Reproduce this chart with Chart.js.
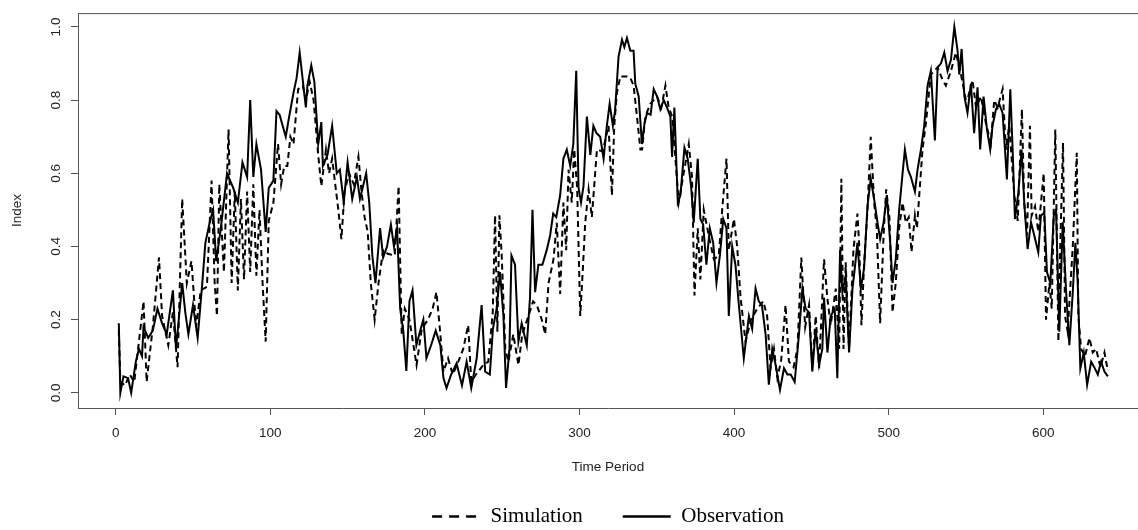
<!DOCTYPE html>
<html>
<head>
<meta charset="utf-8">
<script src="https://cdn.jsdelivr.net/npm/chart.js@4"></script>
<style>
  body { margin: 0; background: #fff; }
  #wrap { width: 1138px; height: 530px; position: relative; }
</style>
</head>
<body>
<div id="wrap"><canvas id="indexChart"></canvas></div>
<script>
// axis ticks
const xTicks = [0, 100, 200, 300, 400, 500, 600];
const yTicks = [0, 0.2, 0.4, 0.6, 0.8, 1.0];
const seriesNames = ["Simulation", "Observation"];

// [time period, index]
const simulation = [
  [2,0.17],[3,0.03],[6,0.02],[9,0.05],[12,0.03],[15,0.14],[18,0.25],[20,0.03],[24,0.18],[28,0.37],
  [30,0.21],[34,0.13],[37,0.22],[40,0.07],[43,0.53],[46,0.30],[49,0.36],[52,0.18],[55,0.28],[59,0.29],
  [62,0.58],[64,0.30],[65.5,0.21],[67,0.57],[70,0.33],[73,0.72],[75,0.30],[77,0.55],[79,0.28],[81,0.53],
  [83,0.31],[85,0.55],[87,0.33],[89,0.57],[91,0.32],[93,0.50],[95,0.30],[97,0.14],[99,0.47],[102,0.52],
  [105,0.68],[107,0.57],[109,0.62],[111,0.62],[113,0.70],[115,0.68],[118,0.83],[121,0.84],[123,0.80],[125.5,0.85],
  [128,0.80],[131,0.65],[133,0.565],[136,0.665],[138,0.60],[140,0.64],[144,0.50],[146,0.42],[148,0.55],[151,0.60],
  [154,0.57],[157,0.645],[159,0.55],[161,0.48],[163,0.44],[165,0.30],[167.5,0.20],[170,0.30],[173,0.39],[176,0.38],
  [180.5,0.375],[183,0.565],[185,0.16],[187,0.23],[190,0.20],[194.6,0.076],[198,0.175],[202,0.20],[205,0.23],[207.5,0.275],
  [210,0.16],[212,0.058],[215,0.094],[218,0.05],[221.6,0.085],[224.8,0.12],[228,0.185],[230,0.03],[233,0.05],[237.8,0.076],
  [241,0.085],[243.9,0.22],[245.4,0.485],[246.9,0.167],[248.2,0.485],[249.7,0.375],[252,0.12],[254,0.085],[257.2,0.16],[260.5,0.076],
  [263,0.16],[267,0.21],[270,0.25],[272.4,0.24],[275.6,0.20],[277.8,0.16],[280,0.30],[283.2,0.365],[285.3,0.465],[287.5,0.27],
  [289.6,0.52],[291.4,0.39],[292.9,0.61],[295,0.52],[296.6,0.665],[298.5,0.56],[300.5,0.21],[302.2,0.34],[303.7,0.465],[305.9,0.556],
  [308,0.48],[311.3,0.665],[315,0.66],[318.8,0.73],[321,0.54],[322.5,0.73],[324.2,0.82],[326.4,0.865],[330.7,0.865],[333,0.86],
  [335,0.84],[337.2,0.755],[339.4,0.665],[340.5,0.665],[342.6,0.755],[345.8,0.79],[350.2,0.81],[353,0.78],[355.6,0.84],[357.7,0.78],
  [360,0.755],[364.2,0.52],[366.4,0.575],[370.7,0.68],[372.8,0.59],[374.4,0.266],[376.5,0.45],[378.2,0.31],[380.4,0.50],[383.6,0.43],
  [386.9,0.365],[390.1,0.375],[392.3,0.50],[395.1,0.64],[396.6,0.39],[399.9,0.475],[402,0.40],[404.2,0.26],[407.4,0.14],[411,0.20],
  [415,0.23],[418.9,0.25],[421.4,0.21],[423.6,0.067],[425.8,0.12],[428,0.04],[430.5,0.09],[433.3,0.24],[435.5,0.085],[438.5,0.07],
  [441,0.12],[443.5,0.37],[446,0.18],[448.5,0.24],[450.6,0.067],[452.8,0.21],[455,0.067],[458.2,0.365],[460.4,0.257],[462.5,0.185],
  [465.8,0.285],[468,0.12],[469.4,0.585],[470.8,0.12],[472.2,0.357],[474.4,0.12],[477.2,0.39],[479.8,0.49],[481,0.40],[482.4,0.185],
  [484.1,0.35],[486.3,0.50],[488.4,0.70],[490.6,0.52],[492.3,0.45],[494.5,0.19],[496.7,0.43],[498.4,0.556],[500.5,0.48],[502.5,0.22],
  [504.6,0.30],[506.8,0.45],[509,0.52],[511.1,0.465],[513,0.48],[514.8,0.385],[517,0.485],[518.3,0.45],[519.8,0.54],[521.9,0.665],
  [524.1,0.737],[527.3,0.87],[531.7,0.89],[534.9,0.855],[537,0.84],[540.3,0.88],[543.5,0.93],[546.8,0.87],[550,0.80],[551.5,0.81],
  [554.3,0.855],[556.5,0.78],[559.7,0.81],[562.9,0.737],[566.1,0.683],[568.3,0.80],[570.5,0.78],[573.7,0.83],[575.9,0.665],[578,0.73],
  [581.3,0.54],[583.5,0.47],[586.2,0.775],[587.7,0.52],[589.5,0.43],[591.4,0.73],[592.5,0.484],[594.7,0.51],[596.8,0.44],[600.3,0.60],
  [601.8,0.20],[604,0.30],[605.5,0.23],[607.8,0.72],[609.8,0.14],[611,0.40],[612.8,0.683],[614.1,0.21],[615.8,0.167],[619.1,0.40],
  [621.7,0.656],[622.7,0.21],[624.5,0.12],[627,0.10],[629.9,0.15],[632,0.11],[634.2,0.12],[637,0.07],[639.6,0.11],[641.8,0.06]
];

const observation = [
  [2,0.19],[3,0.0],[5,0.045],[8,0.04],[10,0.0],[13,0.085],[15,0.12],[17,0.10],[18,0.18],[21,0.15],
  [24,0.17],[27,0.23],[30,0.19],[33,0.16],[37,0.28],[39,0.12],[41,0.21],[43,0.30],[45,0.22],[47,0.16],
  [50,0.24],[53,0.15],[56,0.30],[58,0.41],[61,0.47],[63,0.50],[65,0.36],[68,0.45],[72,0.60],[76,0.56],
  [79,0.52],[82,0.63],[85,0.59],[87,0.80],[89,0.59],[91,0.68],[94,0.61],[97,0.44],[99,0.56],[102,0.58],
  [104,0.77],[106,0.76],[108,0.73],[110,0.70],[112,0.75],[115,0.82],[117,0.86],[119,0.93],[121,0.855],[123,0.78],
  [124,0.84],[126.5,0.895],[128.5,0.85],[131,0.68],[133,0.74],[134,0.62],[137,0.65],[140,0.73],[143,0.60],[145,0.61],
  [147.5,0.52],[150,0.63],[153,0.53],[156,0.59],[158,0.53],[162,0.60],[164,0.52],[166,0.375],[168,0.30],[171,0.45],
  [173,0.37],[175.5,0.40],[178,0.46],[180,0.40],[182,0.45],[184,0.23],[186,0.17],[188,0.06],[190,0.25],[192,0.28],
  [194.5,0.13],[197,0.17],[199,0.20],[201,0.095],[204,0.13],[207,0.17],[210,0.13],[212,0.04],[214,0.013],[217,0.05],
  [220.5,0.08],[224,0.02],[227,0.085],[230,0.013],[233.5,0.094],[236.7,0.24],[239,0.058],[242,0.05],[244,0.175],[246.4,0.23],
  [248.6,0.33],[250.8,0.21],[252.5,0.013],[254.7,0.12],[256,0.375],[258.3,0.35],[260.5,0.14],[262.6,0.19],[265.9,0.13],[268,0.26],
  [269.6,0.50],[271.3,0.275],[273.4,0.35],[276,0.35],[278.8,0.39],[281,0.43],[283,0.49],[285,0.48],[287.5,0.54],[289.6,0.64],
  [291.8,0.665],[294,0.62],[296,0.68],[297.9,0.88],[299.4,0.56],[301,0.52],[302.6,0.565],[304.8,0.755],[307,0.65],[309,0.73],
  [311,0.71],[313.4,0.70],[315.6,0.64],[317.7,0.73],[319.5,0.79],[321.6,0.73],[323,0.77],[325.3,0.92],[327.5,0.965],[329,0.945],
  [330.7,0.97],[332.9,0.935],[335,0.935],[336.1,0.845],[338.3,0.81],[340.4,0.68],[342,0.735],[343.7,0.765],[346,0.76],[348,0.83],
  [350.2,0.81],[352.3,0.775],[354.5,0.80],[356.6,0.78],[358.8,0.755],[359.9,0.645],[361.4,0.78],[363.6,0.52],[365.3,0.54],[367.9,0.67],
  [370,0.64],[372.2,0.565],[373.9,0.465],[376.5,0.64],[378.2,0.475],[380,0.46],[382.1,0.35],[384.3,0.45],[386.5,0.41],[388.6,0.30],
  [390.8,0.375],[393,0.475],[395.1,0.45],[396.6,0.21],[398.8,0.40],[400.9,0.35],[403.1,0.24],[406.3,0.094],[409.6,0.21],[411.7,0.175],
  [413.9,0.285],[416,0.25],[418,0.24],[420.4,0.16],[422.5,0.022],[424.7,0.12],[426.9,0.076],[429.7,0.008],[432.3,0.067],[434.5,0.05],
  [436.6,0.05],[439.2,0.03],[442,0.16],[444.2,0.285],[446.3,0.23],[448.5,0.22],[450.6,0.058],[452.8,0.175],[455,0.076],[457.1,0.12],
  [458.2,0.26],[460.4,0.11],[462.5,0.21],[465.1,0.23],[466.8,0.04],[468.6,0.39],[470.1,0.275],[472.2,0.32],[474.4,0.11],[476.6,0.285],
  [478.1,0.34],[479.8,0.41],[482,0.285],[484.1,0.34],[486.3,0.51],[488.4,0.585],[490.6,0.53],[492.8,0.465],[494.5,0.42],[496.7,0.465],
  [498.8,0.54],[501,0.41],[502.5,0.30],[504.6,0.365],[506.8,0.50],[509,0.60],[510.5,0.665],[512.5,0.61],[514.4,0.59],[517,0.55],
  [518.7,0.61],[520.9,0.665],[523,0.73],[525.2,0.84],[527.3,0.88],[529.9,0.69],[531.7,0.89],[533.8,0.90],[536,0.93],[538.1,0.88],
  [540.3,0.91],[542.5,1.0],[544.6,0.935],[545.7,0.87],[547.2,0.94],[549,0.81],[551,0.765],[553.2,0.845],[555.3,0.71],[557.5,0.835],
  [559.2,0.665],[561.4,0.81],[563.6,0.72],[565.7,0.665],[567.2,0.73],[569.4,0.775],[571.5,0.79],[573.7,0.765],[576.5,0.583],[578.7,0.83],
  [580.2,0.665],[581.7,0.475],[583.9,0.547],[586,0.665],[587.7,0.52],[589.9,0.393],[592.1,0.466],[594.2,0.43],[596.8,0.384],[598.5,0.484],
  [600.7,0.493],[602.4,0.33],[604.6,0.30],[606.8,0.484],[608.3,0.50],[610.4,0.167],[612.6,0.466],[614.7,0.285],[616.9,0.13],[619.1,0.275],
  [620.8,0.41],[622.3,0.30],[624,0.067],[626.2,0.11],[628.4,0.022],[631,0.085],[633,0.07],[635.3,0.05],[637.4,0.085],[639.6,0.058],
  [641.8,0.045]
];

const toPoints = (pairs) => pairs.map((p) => ({ x: p[0], y: p[1] }));
const axisColor = "#555";
const tickFont = { family: "Liberation Sans", size: 13.5 };

// top edge of the R style box (left and bottom come from the axis borders)
const frameTop = {
  id: "frameTop",
  afterDatasetsDraw(chart) {
    const { ctx, chartArea } = chart;
    ctx.save();
    ctx.strokeStyle = axisColor;
    ctx.lineWidth = 1;
    ctx.beginPath();
    ctx.moveTo(chartArea.left, chartArea.top + 0.5);
    ctx.lineTo(chartArea.right, chartArea.top + 0.5);
    ctx.stroke();
    ctx.restore();
  }
};

new Chart(document.getElementById("indexChart"), {
  type: "line",
  data: {
    datasets: [
      {
        label: seriesNames[0],
        data: toPoints(simulation),
        borderColor: "#000",
        borderWidth: 2,
        borderDash: [6, 4],
        pointRadius: 0,
        tension: 0,
        order: 2
      },
      {
        label: seriesNames[1],
        data: toPoints(observation),
        borderColor: "#000",
        borderWidth: 2,
        pointRadius: 0,
        tension: 0,
        order: 1
      }
    ]
  },
  options: {
    responsive: true,
    maintainAspectRatio: false,
    animation: false,
    layout: { padding: { top: 11, right: 0, bottom: -7, left: 0 } },
    plugins: {
      tooltip: { enabled: false },
      legend: {
        position: "bottom",
        fullSize: false,
        labels: {
          usePointStyle: true,
          pointStyleWidth: 48,
          padding: 40,
          color: "#000",
          font: { family: "Liberation Serif", size: 21 },
          generateLabels: () => [
            { text: seriesNames[0], strokeStyle: "#000", fillStyle: "#000", lineWidth: 2.5,
              lineDash: [10, 7], pointStyle: "line", fontColor: "#000", hidden: false, datasetIndex: 0 },
            { text: seriesNames[1], strokeStyle: "#000", fillStyle: "#000", lineWidth: 2.5,
              lineDash: [], pointStyle: "line", fontColor: "#000", hidden: false, datasetIndex: 1 }
          ]
        }
      }
    },
    scales: {
      x: {
        type: "linear",
        min: -24.4,
        max: 661.3,
        afterBuildTicks: (scale) => { scale.ticks = xTicks.map((v) => ({ value: v })); },
        afterFit: (scale) => { scale.height = 58; },
        grid: { drawOnChartArea: false, drawTicks: true, tickLength: 7, color: axisColor },
        border: { display: true, color: axisColor, width: 1 },
        ticks: { color: "#222", font: tickFont, padding: 10, maxRotation: 0, callback: (v) => String(v) },
        title: { display: true, text: "Time Period", color: "#222", font: tickFont, padding: { top: 0, bottom: -9 } }
      },
      y: {
        type: "linear",
        min: -0.0416,
        max: 1.038,
        afterBuildTicks: (scale) => { scale.ticks = yTicks.map((v) => ({ value: v })); },
        afterFit: (scale) => { scale.width = 78; },
        grid: { drawOnChartArea: false, drawTicks: true, tickLength: 7, color: axisColor },
        border: { display: true, color: axisColor, width: 1 },
        ticks: { color: "#222", font: tickFont, padding: 5, minRotation: 90, maxRotation: 90,
                 crossAlign: "center", callback: (v) => v.toFixed(1) },
        title: { display: true, text: "Index", color: "#222", font: tickFont, padding: { top: 9, bottom: 0 } }
      }
    }
  },
  plugins: [frameTop]
});
</script>
</body>
</html>
